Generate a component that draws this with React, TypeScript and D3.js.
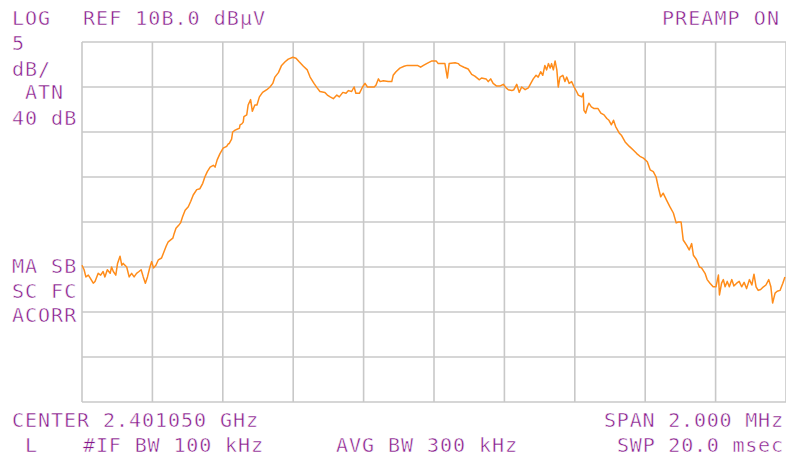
import React from "react";
import * as d3 from "d3";

// trace: offset from centre (kHz) and level (dBµV)
const freqOffsetKHz = [
  -1000, -994, -989, -982, -977, -968, -963, -954, -947, -940, -935, -928, -920, -916, -911, -904, -899, -892, -887, -883,
  -873, -866, -859, -852, -845, -838, -832, -826, -820, -814, -807, -802, -797, -790, -783, -774, -769, -761, -755, -742,
  -739, -733, -726, -720, -714, -707, -698, -691, -684, -674, -665, -657, -651, -644, -636, -627, -622, -616, -608, -599,
  -589, -584, -582, -575, -572, -565, -560, -553, -551, -546, -542, -540, -532, -528, -521, -516, -509, -503, -496, -487,
  -475, -466, -458, -452, -442, -433, -423, -414, -401, -392, -383, -371, -360, -352, -341, -332, -324, -310, -303, -295,
  -286, -276, -269, -259, -250, -243, -234, -227, -222, -212, -203, -196, -189, -180, -170, -165, -158, -153, -144, -130,
  -120, -116, -108, -97, -85, -76, -59, -47, -38, -30, -21, -6, 6, 12, 31, 38, 43, 60, 69, 74,
  85, 97, 107, 116, 129, 135, 148, 154, 161, 168, 178, 187, 197, 205, 211, 221, 227, 235, 242, 249,
  259, 268, 275, 282, 290, 296, 303, 309, 315, 320, 325, 330, 334, 339, 344, 349, 353, 358, 366, 372,
  377, 384, 391, 398, 405, 410, 420, 424, 426, 431, 436, 440, 447, 455, 466, 474, 483, 491, 497, 504,
  510, 516, 526, 533, 543, 555, 566, 576, 585, 595, 606, 614, 623, 631, 637, 644, 651, 661, 670, 680,
  688, 694, 702, 708, 718, 725, 732, 737, 746, 754, 760, 770, 776, 784, 793, 801, 808, 811, 817, 822,
  827, 833, 839, 846, 852, 860, 867, 874, 881, 888, 896, 903, 909, 915, 921, 928, 936, 943, 951, 957,
  962, 969, 975, 983, 991, 997,
];
const levelDbuV = [
  83.2, 82.7, 81.9, 82.1, 81.8, 81.2, 81.4, 82.3, 82.1, 82.5, 81.9, 82.7, 82.3, 83.0, 82.5, 82.1, 83.4, 84.2, 83.2, 83.4,
  83.0, 81.9, 82.3, 81.9, 82.3, 82.5, 82.7, 81.9, 81.2, 81.9, 83.0, 83.6, 82.9, 83.2, 83.8, 84.0, 84.5, 85.3, 85.8, 86.2,
  86.6, 87.3, 87.6, 87.9, 88.6, 89.3, 89.7, 90.3, 91.0, 91.6, 91.7, 92.3, 93.0, 93.6, 94.1, 94.3, 94.1, 94.9, 95.6, 96.2,
  96.4, 96.7, 96.7, 97.2, 98.0, 98.2, 98.3, 98.4, 98.8, 98.9, 99.1, 99.7, 99.9, 101.0, 101.6, 100.3, 101.0, 101.0, 101.9, 102.4,
  102.7, 103.0, 103.4, 104.1, 104.6, 105.4, 105.8, 106.1, 106.3, 106.2, 105.8, 105.3, 104.9, 104.1, 103.4, 102.9, 102.5, 102.4, 102.1, 101.9,
  101.7, 102.1, 101.9, 102.4, 102.3, 102.6, 102.5, 103.0, 102.3, 102.3, 103.0, 103.4, 103.0, 103.0, 103.0, 103.2, 103.9, 103.6, 103.7, 103.6,
  103.6, 104.3, 104.7, 105.1, 105.3, 105.4, 105.4, 105.4, 105.2, 105.4, 105.6, 105.9, 105.9, 105.6, 105.6, 104.0, 105.6, 105.7, 105.6, 105.4,
  105.2, 105.0, 104.4, 104.2, 103.8, 104.0, 103.9, 103.6, 103.9, 103.4, 103.1, 103.1, 103.3, 102.9, 102.7, 102.6, 102.7, 103.3, 102.4, 103.0,
  102.7, 102.9, 103.4, 103.9, 104.3, 104.1, 104.7, 104.3, 105.4, 104.9, 105.6, 105.1, 105.6, 104.9, 105.9, 104.9, 103.0, 104.1, 104.3, 103.6,
  104.1, 103.4, 103.6, 103.0, 102.5, 102.1, 101.9, 102.3, 100.4, 100.1, 100.8, 101.2, 100.8, 100.6, 100.6, 100.1, 99.9, 99.5, 99.3, 98.8,
  99.3, 98.6, 97.9, 97.6, 96.9, 96.4, 96.0, 95.6, 95.3, 95.1, 94.7, 93.8, 93.6, 93.0, 91.9, 90.8, 91.2, 90.4, 89.7, 89.0,
  87.9, 88.0, 88.0, 86.0, 85.4, 84.9, 85.6, 84.3, 83.8, 83.0, 82.9, 82.3, 81.6, 81.2, 80.8, 80.8, 82.1, 79.9, 81.2, 81.6,
  80.8, 81.4, 80.8, 81.6, 80.9, 81.2, 81.4, 80.8, 81.3, 80.6, 81.6, 81.0, 82.2, 80.8, 80.4, 80.5, 80.8, 81.0, 81.6, 80.8,
  79.0, 80.1, 80.3, 80.4, 81.2, 81.9,
];

const refLevel = 108;
const dbPerDiv = 5;
const yDivs = 8;
const xDivs = 10;
const spanKHz = 2000;

const topLabels = [
  { text: "LOG", x: 12, y: 25 },
  { text: "REF 10B.0 dBµV", x: 83, y: 25, len: 182 },
  { text: "PREAMP ON", x: 662, y: 25, len: 117 },
  { text: "5", x: 12, y: 50 },
  { text: "dB/", x: 12, y: 76 },
  { text: "ATN", x: 25, y: 99 },
  { text: "40 dB", x: 12, y: 125 },
  { text: "MA SB", x: 12, y: 273 },
  { text: "SC FC", x: 12, y: 298 },
  { text: "ACORR", x: 12, y: 322 },
  { text: "CENTER 2.401050 GHz", x: 12, y: 427, len: 246 },
  { text: "L", x: 25, y: 452 },
  { text: "#IF BW 100 kHz", x: 83, y: 452, len: 180 },
  { text: "AVG BW 300 kHz", x: 336, y: 452, len: 181 },
  { text: "SPAN 2.000 MHz", x: 604, y: 427, len: 179 },
  { text: "SWP 20.0 msec", x: 617, y: 452, len: 166 },
];

export default function App() {
  const width = 786;
  const height = 457;
  const left = 82, right = 786, top = 42, bottom = 402;

  const xScale = d3.scaleLinear().domain([-spanKHz / 2, spanKHz / 2]).range([left, right]);
  const yScale = d3.scaleLinear().domain([refLevel - dbPerDiv * yDivs, refLevel]).range([bottom, top]);

  const xTicks = d3.range(xDivs + 1).map(i => -spanKHz / 2 + (i * spanKHz) / xDivs);
  const yTicks = d3.range(yDivs + 1).map(i => refLevel - i * dbPerDiv);

  const line = d3.line<number>()
    .x((_, i) => xScale(freqOffsetKHz[i]))
    .y(d => yScale(d));

  const purple = "#86188a";

  return (
    <svg width={width} height={height} style={{ display: "block", background: "#fff" }}>
      <style>{`body{margin:0}`}</style>
      {/* graticule */}
      <g stroke="#c8c8c8" strokeWidth={1.6}>
        {xTicks.map((t, i) => (
          <line key={"v" + i} x1={xScale(t)} x2={xScale(t)} y1={top} y2={bottom} />
        ))}
        {yTicks.map((t, i) => (
          <line key={"h" + i} x1={left} x2={right} y1={yScale(t)} y2={yScale(t)} />
        ))}
      </g>

      <path d={line(levelDbuV) || ""} fill="none" stroke="#ff8c1a" strokeWidth={1.5} strokeLinejoin="round" />

      {/* thin white outline makes the glyphs a bit lighter, like the analyser font */}
      <g fill={purple} stroke="#fff" strokeWidth={0.5} fontFamily="'DejaVu Sans Mono', monospace" fontSize={20}>
        {topLabels.map((l, i) => (
          <text key={i} x={l.x} y={l.y}
                textLength={l.len}
                lengthAdjust={l.len ? "spacing" : undefined}
                letterSpacing={l.len ? undefined : 1}>
            {l.text}
          </text>
        ))}
      </g>
    </svg>
  );
}
